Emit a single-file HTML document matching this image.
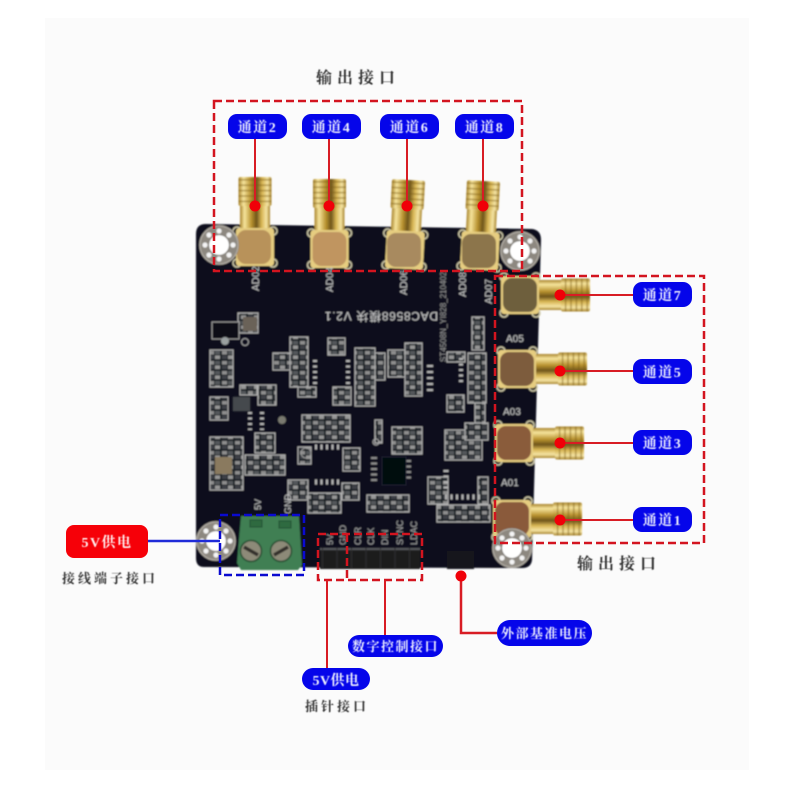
<!DOCTYPE html>
<html lang="zh">
<head>
<meta charset="utf-8">
<title>DAC8568模块接口图</title>
<style>
html,body{margin:0;padding:0;background:#fff;width:800px;height:800px;overflow:hidden}
svg{display:block}
.cn{font-family:"Liberation Serif","Noto Serif CJK SC",serif;font-weight:700}
.pl{fill:#eef0ff;font-size:14px;text-anchor:middle;letter-spacing:1.5px}
.bk{fill:#333;font-size:13px;letter-spacing:3px}
.silk{font-family:"Liberation Sans",sans-serif;fill:#c9c9c9;font-size:10px}
</style>
</head>
<body>
<svg width="800" height="800" viewBox="0 0 800 800" xmlns="http://www.w3.org/2000/svg">
<defs>
<filter id="b" x="-5%" y="-5%" width="110%" height="110%"><feGaussianBlur stdDeviation="0.7"/></filter>
<filter id="t" x="-5%" y="-20%" width="110%" height="140%"><feGaussianBlur stdDeviation="0.4"/></filter>
<linearGradient id="gv" x1="0" x2="1" y1="0" y2="0">
<stop offset="0" stop-color="#a8842c"/><stop offset=".15" stop-color="#f6e49c"/><stop offset=".38" stop-color="#b8922f"/><stop offset=".55" stop-color="#6e541a"/><stop offset=".72" stop-color="#d8b654"/><stop offset=".88" stop-color="#f4e4a4"/><stop offset="1" stop-color="#a8842c"/>
</linearGradient>
<pattern id="thr" width="4" height="5.4" patternUnits="userSpaceOnUse">
<rect y="0" width="4" height="1.6" fill="#7a5c14" opacity=".45"/>
</pattern>
<pattern id="smt" width="13" height="10" patternUnits="userSpaceOnUse">
<rect width="13" height="10" fill="#1d2026"/>
<rect x="1" y="1" width="5" height="3.500" fill="#8e8e8e"/>
<rect x="7" y="1" width="5" height="3.500" fill="#55585c"/>
<rect x="1" y="5.500" width="5" height="3.500" fill="#3e4146"/>
<rect x="7" y="5.500" width="5" height="3.500" fill="#969696"/>
</pattern>
<g id="conn">
<rect x="-16.500" y="-29" width="33" height="29" rx="2" fill="url(#gv)"/>
<rect x="-16.500" y="-29" width="33" height="29" fill="url(#thr)"/>
<rect x="-15" y="0" width="30" height="23" fill="url(#gv)"/>
<circle cx="-18" cy="25" r="4" fill="none" stroke="#cfc9a8" stroke-width="1.500"/>
<circle cx="18" cy="25" r="4" fill="none" stroke="#cfc9a8" stroke-width="1.500"/>
<circle cx="-18" cy="57" r="4" fill="none" stroke="#cfc9a8" stroke-width="1.500"/>
<circle cx="18" cy="57" r="4" fill="none" stroke="#cfc9a8" stroke-width="1.500"/>
<rect x="-19" y="22" width="38" height="38" rx="3" fill="#e6cd80"/>
</g>
<g id="hole">
<circle r="20" fill="#4a4640"/>
<circle r="19" fill="none" stroke="#b5b0a8" stroke-width="1.500"/>
<circle r="14.500" fill="none" stroke="#8d8880" stroke-width="8"/>
<g fill="#f4f4f4">
<circle cx="14" cy="0" r="2.600"/><circle cx="-14" cy="0" r="2.600"/><circle cx="0" cy="14" r="2.600"/><circle cx="0" cy="-14" r="2.600"/>
<circle cx="10" cy="10" r="2.600"/><circle cx="-10" cy="10" r="2.600"/><circle cx="10" cy="-10" r="2.600"/><circle cx="-10" cy="-10" r="2.600"/>
</g>
<circle r="10" fill="#fff"/>
</g>
</defs>

<rect width="800" height="800" fill="#fff"/>
<rect x="45" y="18" width="704" height="752" fill="#fbfbfb"/>

<g filter="url(#b)">
<!-- board -->
<path d="M206 224 L532 229 Q541 230 541 240 L532 560 Q531 568 522 568 L204 567 Q196 567 196 558 L196 234 Q196 224 206 224 Z" fill="#0a0f1b"/>

<!-- SMT clusters -->
<g stroke="#b0b0b0" stroke-width="1">
<rect x="238" y="313" width="20" height="20" fill="url(#smt)"/>
<rect x="290" y="337" width="18" height="50" fill="url(#smt)"/>
<rect x="273" y="353" width="17" height="17" fill="url(#smt)"/>
<rect x="328" y="338" width="17" height="17" fill="url(#smt)"/>
<rect x="355" y="348" width="20" height="58" fill="url(#smt)"/>
<rect x="375" y="353" width="10" height="27" fill="url(#smt)"/>
<rect x="388" y="350" width="17" height="27" fill="url(#smt)"/>
<rect x="405" y="343" width="17" height="53" fill="url(#smt)"/>
<rect x="468" y="353" width="18" height="50" fill="url(#smt)"/>
<rect x="472" y="317" width="12" height="33" fill="url(#smt)"/>
<rect x="447" y="352" width="18" height="10" fill="url(#smt)"/>
<rect x="447" y="395" width="17" height="17" fill="url(#smt)"/>
<rect x="333" y="387" width="18" height="18" fill="url(#smt)"/>
<rect x="298" y="387" width="18" height="10" fill="url(#smt)"/>
<rect x="210" y="350" width="23" height="37" fill="url(#smt)"/>
<rect x="210" y="397" width="18" height="23" fill="url(#smt)"/>
<rect x="240" y="385" width="17" height="10" fill="url(#smt)"/>
<rect x="258" y="385" width="18" height="20" fill="url(#smt)"/>
<rect x="255" y="433" width="20" height="20" fill="url(#smt)"/>
<rect x="210" y="437" width="33" height="53" fill="url(#smt)"/>
<rect x="245" y="455" width="40" height="20" fill="url(#smt)"/>
<rect x="302" y="415" width="48" height="27" fill="url(#smt)"/>
<rect x="298" y="447" width="13" height="17" fill="url(#smt)"/>
<rect x="343" y="448" width="17" height="23" fill="url(#smt)"/>
<rect x="392" y="427" width="30" height="27" fill="url(#smt)"/>
<rect x="375" y="420" width="7" height="23" fill="url(#smt)"/>
<rect x="288" y="480" width="20" height="20" fill="url(#smt)"/>
<rect x="308" y="493" width="33" height="20" fill="url(#smt)"/>
<rect x="342" y="483" width="17" height="17" fill="url(#smt)"/>
<rect x="367" y="495" width="42" height="17" fill="url(#smt)"/>
<rect x="445" y="430" width="37" height="30" fill="url(#smt)"/>
<rect x="465" y="423" width="23" height="17" fill="url(#smt)"/>
<rect x="428" y="477" width="20" height="27" fill="url(#smt)"/>
<rect x="437" y="505" width="53" height="17" fill="url(#smt)"/>
<rect x="478" y="477" width="10" height="27" fill="url(#smt)"/>
<rect x="475" y="403" width="10" height="20" fill="url(#smt)"/>
</g>
<!-- tan / dark components -->
<rect x="215" y="457" width="17" height="17" fill="#8a7a5e"/>
<rect x="233" y="397" width="17" height="14" fill="#44484e"/>
<rect x="243" y="317" width="14" height="14" fill="#6a6258"/>
<rect x="212" y="322" width="27" height="17" fill="#0a0c12" stroke="#999" stroke-width="1"/>
<circle cx="225" cy="341" r="4" fill="#9aa0a0"/>
<circle cx="245" cy="342" r="3.500" fill="none" stroke="#aaa"/>
<circle cx="376" cy="442" r="3" fill="none" stroke="#aaa"/>
<circle cx="306" cy="453" r="5" fill="none" stroke="#999"/>
<circle cx="282" cy="420" r="4" fill="#7a7a70"/>
<!-- IC pins -->
<g stroke="#b5b5b5" fill="none" stroke-dasharray="2 3.500">
<path d="M315 360V385M348 360V385" stroke-width="4"/>
<path d="M430 365V392" stroke-width="6" stroke-dasharray="2 4"/>
<path d="M461 358V383" stroke-width="4"/>
<path d="M315 447H340M315 482H340" stroke-width="5"/>
<path d="M374 457V482M408 460V482" stroke-width="6" stroke="#8d8d8d"/>
<path d="M446 470V490M445 497H480" stroke-width="5"/>
<path d="M250 412V430M262 412V430" stroke-width="4"/>
</g>
<rect x="382" y="457" width="24" height="28" fill="#050810" stroke="#1d2230"/>

<!-- connectors -->
<use href="#conn" x="255" y="206"/>
<use href="#conn" x="329.500" y="208"/>
<use href="#conn" transform="translate(407 209) rotate(3)"/>
<use href="#conn" transform="translate(482 210) rotate(3)"/>
<use href="#conn" transform="translate(561 295) rotate(90)"/>
<use href="#conn" transform="translate(558 369) rotate(90)"/>
<use href="#conn" transform="translate(555 443) rotate(90)"/>
<use href="#conn" transform="translate(553 519) rotate(90)"/>
<rect x="237" y="230" width="34" height="34" rx="9" fill="#b8925a"/>
<rect x="312.500" y="232" width="34" height="34" rx="9" fill="#c09560"/>
<rect x="387" y="233" width="34" height="34" rx="9" fill="#a88a5e"/>
<rect x="462" y="234" width="34" height="34" rx="9" fill="#8c744c"/>
<rect x="503" y="278" width="34" height="34" rx="9" fill="#6e5f3e"/>
<rect x="500" y="352" width="34" height="34" rx="9" fill="#7d5c3c"/>
<rect x="497" y="426" width="34" height="34" rx="9" fill="#8a5c3a"/>
<rect x="495" y="502" width="34" height="34" rx="9" fill="#8a5a3a"/>

<!-- mounting holes -->
<use href="#hole" x="219" y="245"/>
<use href="#hole" x="520" y="251"/>
<use href="#hole" x="216" y="541"/>
<use href="#hole" x="512" y="548"/>

<!-- terminal block -->
<path d="M241 516 H299 L302 565 L298 570 H241 L237 563 Z" fill="#3f7f52"/>
<rect x="250" y="520" width="12" height="7" fill="#2f6a41" stroke="#214f30"/>
<rect x="279" y="521" width="12" height="7" fill="#2f6a41" stroke="#214f30"/>
<circle cx="251" cy="551" r="10.500" fill="#8d8a78" stroke="#274d33" stroke-width="1.500"/>
<circle cx="281" cy="551" r="10.500" fill="#8d8a78" stroke="#274d33" stroke-width="1.500"/>
<path d="M244 547L258 555M274 555L288 547" stroke="#332f2a" stroke-width="3.500"/>

<!-- headers -->
<rect x="320" y="548" width="100" height="21" fill="#1b1b1e"/>
<path d="M320 549H420" stroke="#55565a" stroke-width="2"/>
<path d="M322 558H420" stroke="#2e2e32" stroke-width="20" stroke-dasharray="1 13.500"/>
<rect x="447" y="551" width="27" height="18" fill="#14151a"/>

<!-- silk -->
<g class="silk">
<text transform="translate(259 291) rotate(-90)">AD02</text>
<text transform="translate(333 292) rotate(-90)">AD04</text>
<text transform="translate(407 295) rotate(-90)">AD06</text>
<text transform="translate(466 297) rotate(-90)">AD08</text>
<text transform="translate(492 304) rotate(-90)">AD07</text>
<text x="506" y="342">A05</text>
<text x="503" y="415">A03</text>
<text x="501" y="486">A01</text>
<text transform="translate(438 312) rotate(180)" style="font-family:'Liberation Sans','Noto Sans CJK SC',sans-serif;font-weight:400;font-size:12px;letter-spacing:.7px">DAC8568模块 V2.1</text>
<text transform="translate(446 362) rotate(-90)" style="font-size:8px;fill:#9a9a9a">ST4508N_YI828_210402</text>
<text transform="translate(261 510) rotate(-90)" style="font-size:9px">5V</text>
<text transform="translate(291 514) rotate(-90)" style="font-size:9px">GND</text>
<g style="font-size:9px;fill:#a8a8a8">
<text transform="translate(333 545) rotate(-90)">5V</text>
<text transform="translate(346 545) rotate(-90)">GND</text>
<text transform="translate(361 545) rotate(-90)">CLR</text>
<text transform="translate(374 545) rotate(-90)">CLK</text>
<text transform="translate(388 545) rotate(-90)">DIN</text>
<text transform="translate(403 545) rotate(-90)">SYNC</text>
<text transform="translate(417 545) rotate(-90)">LDAC</text>
</g>
</g>
</g>

<!-- dashed regions -->
<g fill="none" stroke-width="2.500" stroke-dasharray="8 4">
<rect x="214" y="101" width="308" height="170" stroke="#d3141f"/>
<rect x="495" y="276" width="209" height="267" stroke="#d3141f"/>
<path d="M318 534H422V580H318Z M347 534V580" stroke="#d3141f"/>
<rect x="220" y="515" width="84" height="60" stroke="#0a0ad0"/>
</g>

<!-- connector lines -->
<g stroke="#d81c24" stroke-width="2" fill="none">
<path d="M255 139V206M329 139V206M407 139V206M483 139V206"/>
<path d="M560 295H633M560 371H633M560 443H633M560 520H633"/>
<path d="M327 580V668M385 580V635"/>
<path d="M461 576V633H497" stroke-width="2.500"/>
</g>
<path d="M148 541H220" stroke="#1f2bd8" stroke-width="2.500"/>
<g fill="#f00008">
<circle cx="255" cy="206" r="5.500"/><circle cx="329" cy="206" r="5.500"/><circle cx="407" cy="206" r="5.500"/><circle cx="483" cy="206" r="5.500"/>
<circle cx="560" cy="295" r="5.500"/><circle cx="560" cy="371" r="5.500"/><circle cx="560" cy="443" r="5.500"/><circle cx="560" cy="520" r="5.500"/>
<circle cx="461" cy="576" r="5.500"/>
</g>

<!-- pills -->
<g fill="#0505ea">
<rect x="228" y="114" width="59" height="25" rx="9"/>
<rect x="302" y="114" width="59" height="25" rx="9"/>
<rect x="380" y="114" width="59" height="25" rx="9"/>
<rect x="455" y="114" width="59" height="25" rx="9"/>
<rect x="633" y="282" width="59" height="25" rx="9"/>
<rect x="633" y="359" width="59" height="25" rx="9"/>
<rect x="633" y="430" width="59" height="25" rx="9"/>
<rect x="633" y="507" width="59" height="25" rx="9"/>
<rect x="348" y="635" width="95" height="22" rx="11"/>
<rect x="302" y="668" width="68" height="22" rx="11"/>
<rect x="497" y="620" width="95" height="26" rx="13"/>
</g>
<rect x="66" y="525" width="82" height="33" rx="8" fill="#f60008"/>

<g class="cn" filter="url(#t)">
<g class="pl">
<text x="257.500" y="132">通道2</text>
<text x="331.500" y="132">通道4</text>
<text x="409.500" y="132">通道6</text>
<text x="484.500" y="132">通道8</text>
<text x="662.500" y="300">通道7</text>
<text x="662.500" y="377">通道5</text>
<text x="662.500" y="448">通道3</text>
<text x="662.500" y="525">通道1</text>
<text x="395.500" y="651" style="letter-spacing:1.500px;font-size:13px">数字控制接口</text>
<text x="336" y="685" style="letter-spacing:.5px">5V供电</text>
<text x="544.500" y="638" style="letter-spacing:1.500px;font-size:13px">外部基准电压</text>
<text x="107" y="547" style="fill:#fff0f0;letter-spacing:1.500px">5V供电</text>
</g>
<text x="316" y="83" class="bk" style="font-size:16px;letter-spacing:5px">输出接口</text>
<text x="577" y="569" class="bk" style="font-size:16px;letter-spacing:5px">输出接口</text>
<text x="62" y="583" class="bk" style="letter-spacing:3px">接线端子接口</text>
<text x="305" y="711" class="bk" style="letter-spacing:3px">插针接口</text>
</g>
</svg>
</body>
</html>
